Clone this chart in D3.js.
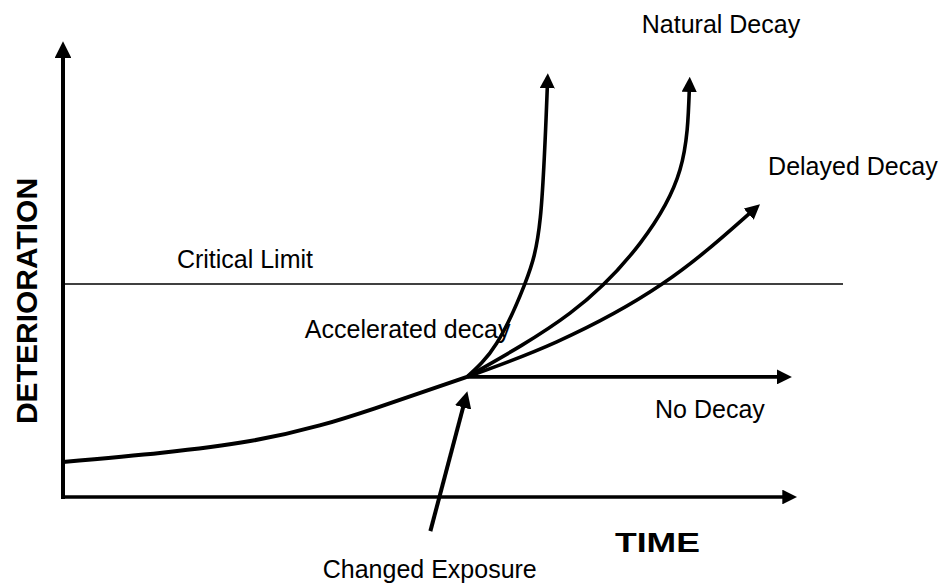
<!DOCTYPE html>
<html>
<head>
<meta charset="utf-8">
<script src="https://cdn.jsdelivr.net/npm/d3@7"></script>
<style>
  body { margin: 0; background: #fff; }
  svg { display: block; }
  text { font-family: "Liberation Sans", Arial, sans-serif; fill: #000; }
</style>
</head>
<body>
<svg class="board" width="945" height="586"></svg>
<script>
// data in chart units: time 0..100, deterioration 0..100
var baseCurve = [[0, 7.7], [24, 12.3], [40, 19.5], [51.8, 26.4]];
var accelerated = [[51.8, 26.4], [55.6, 33.8], [59.2, 46.8], [61.2, 61.5], [62.1, 90.5]];
var natural = [[51.8, 26.4], [65, 40.4], [74, 55.8], [79.1, 71.9], [80.3, 89.7]];
var delayed = [[51.8, 26.4], [63.3, 34.1], [76.8, 46.8], [88.2, 62.6]];
var noDecay = [[51.8, 26.4], [91.9, 26.4]];
var criticalLimit = 46.8;
var exposureArrow = [[47.1, -7.5], [51.4, 20.4]];

var labels = [
  { text: "Natural Decay", t: 74.2, d: 102 },
  { text: "Delayed Decay", t: 90.4, d: 70.8 },
  { text: "Critical Limit", t: 14.6, d: 50.3 },
  { text: "Accelerated decay", t: 31, d: 34.9 },
  { text: "No Decay", t: 75.9, d: 17.4 },
  { text: "Changed Exposure", t: 33.3, d: -17.8 }
];

var svg = d3.select('.board');
var x = d3.scaleLinear().domain([0, 100]).range([63, 843]);
var y = d3.scaleLinear().domain([0, 100]).range([497, 42]);

var defs = svg.append('defs');
defs.append('marker')
  .attr('id', 'head')
  .attr('viewBox', '0 0 10 10')
  .attr('refX', 2).attr('refY', 5)
  .attr('markerWidth', 4.2).attr('markerHeight', 4.2)
  .attr('markerUnits', 'strokeWidth')
  .attr('orient', 'auto')
  .append('path')
  .attr('d', 'M0,0 L10,5 L0,10 Z')
  .attr('fill', '#000');

var line = d3.line()
  .x(function (p) { return x(p[0]); })
  .y(function (p) { return y(p[1]); })
  .curve(d3.curveNatural);

// axes
svg.append('line')
  .attr('x1', x(0)).attr('y1', y(0) + 2)
  .attr('x2', x(0)).attr('y2', y(97.2))
  .attr('stroke', '#000').attr('stroke-width', 4)
  .attr('marker-end', 'url(#head)');
svg.append('line')
  .attr('x1', x(0) - 2).attr('y1', y(0))
  .attr('x2', x(92.6)).attr('y2', y(0))
  .attr('stroke', '#000').attr('stroke-width', 3.5)
  .attr('marker-end', 'url(#head)');

// critical limit
svg.append('line')
  .attr('x1', x(0)).attr('y1', y(criticalLimit))
  .attr('x2', x(100)).attr('y2', y(criticalLimit))
  .attr('stroke', '#000').attr('stroke-width', 1.5);

// curves
svg.append('path')
  .attr('d', line(baseCurve))
  .attr('fill', 'none').attr('stroke', '#000').attr('stroke-width', 4);

svg.selectAll('.branch')
  .data([accelerated, natural, delayed, noDecay])
  .enter()
  .append('path')
  .attr('class', 'branch')
  .attr('d', function (d) { return line(d); })
  .attr('fill', 'none').attr('stroke', '#000').attr('stroke-width', 3.6)
  .attr('marker-end', 'url(#head)');

svg.append('path')
  .attr('d', line(exposureArrow))
  .attr('fill', 'none').attr('stroke', '#000').attr('stroke-width', 4)
  .attr('marker-end', 'url(#head)');

// labels
svg.selectAll('.lbl')
  .data(labels)
  .enter()
  .append('text')
  .attr('class', 'lbl')
  .attr('x', function (d) { return x(d.t); })
  .attr('y', function (d) { return y(d.d); })
  .attr('font-size', 25)
  .text(function (d) { return d.text; });

svg.append('text')
  .attr('x', 615).attr('y', 552)
  .attr('font-size', 28).attr('font-weight', 'bold')
  .attr('textLength', 85).attr('lengthAdjust', 'spacingAndGlyphs')
  .text('TIME');

svg.append('text')
  .attr('transform', 'translate(37,301) rotate(-90)')
  .attr('text-anchor', 'middle')
  .attr('font-size', 30).attr('font-weight', 'bold')
  .text('DETERIORATION');
</script>
</body>
</html>
